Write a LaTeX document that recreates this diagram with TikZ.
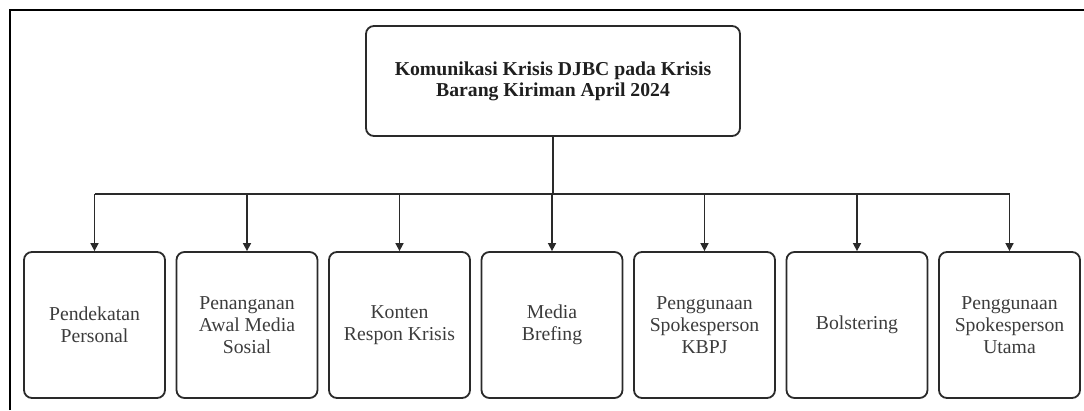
\documentclass[tikz,border=0pt]{standalone}
\usepackage{fontspec}
\setmainfont{Liberation Serif}
\usetikzlibrary{arrows.meta}
\definecolor{linec}{HTML}{2A2A2A}
\definecolor{txtc}{HTML}{3C3C3C}
\tikzset{
  leaf/.style={draw=linec, line width=1.8pt, rounded corners=8pt, minimum width=141pt, minimum height=146pt, inner sep=0pt, align=center, text=txtc, font=\fontsize{19.7pt}{22.3pt}\selectfont},
  rootbox/.style={draw=linec, line width=1.8pt, rounded corners=8pt, minimum width=374pt, minimum height=110pt, inner sep=0pt, align=center, text=black!88, font=\fontsize{19.7pt}{20.8pt}\selectfont\bfseries},
  conn/.style={draw=linec, line width=1.6pt},
  arr/.style={conn, -{Triangle[length=8pt,width=8pt]}},
  frameline/.style={draw=black, line width=2pt}
}
\begin{document}
\begin{tikzpicture}[x=1pt,y=-1pt]
\useasboundingbox (0,0) rectangle (1084,410);
\draw[frameline] (10,410) -- (10,10) -- (1084,10);
\node[rootbox] (root) at (553,81) {Komunikasi Krisis DJBC pada Krisis\\Barang Kiriman April 2024};
\node[leaf] (b1) at (94.5,325) {Pendekatan\\Personal};
\node[leaf] (b2) at (247,325) {Penanganan\\Awal Media\\Sosial};
\node[leaf] (b3) at (399.5,325) {Konten\\Respon Krisis};
\node[leaf] (b4) at (552,325) {Media\\Brefing};
\node[leaf] (b5) at (704.5,325) {Penggunaan\\Spokesperson\\KBPJ};
\node[leaf] (b6) at (857,325) {Bolstering};
\node[leaf] (b7) at (1009.5,325) {Penggunaan\\Spokesperson\\Utama};
\coordinate (bus) at (553,194);
\draw[conn] (root.south) -- (bus);
\draw[conn] (b1.north |- bus) -- (b7.north |- bus);
\foreach \b in {b1,b2,b3,b4,b5,b6,b7}{
  \draw[arr] (\b.north |- bus) -- (\b.north);
}
\end{tikzpicture}
\end{document}
